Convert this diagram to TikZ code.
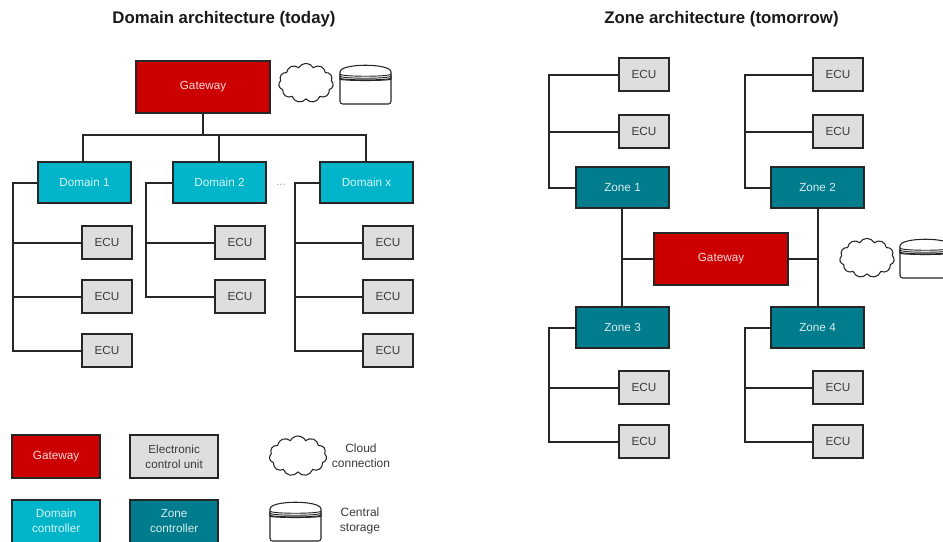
\documentclass[tikz,border=0pt]{standalone}
\usepackage{fontspec}
\setmainfont{Liberation Sans}
\usetikzlibrary{shapes.symbols,calc}
\definecolor{gwred}{HTML}{CC0000}
\definecolor{domcyan}{HTML}{00B5C9}
\definecolor{zoneteal}{HTML}{007C8C}
\definecolor{ecugray}{HTML}{DEDEDE}
\definecolor{txtdark}{HTML}{3A3A3A}
\tikzset{
  box/.style={draw=black!85,line width=1.5pt,anchor=north west,inner sep=0pt,align=center,font=\fontsize{8.8}{11.4}\selectfont},
  gw/.style={box,fill=gwred,text=white!85!gwred},
  dom/.style={box,fill=domcyan,text=white!85!domcyan,minimum width=69.8pt,minimum height=31pt},
  zone/.style={box,fill=zoneteal,text=white!85!zoneteal,minimum width=69.8pt,minimum height=31pt},
  ecu/.style={box,fill=ecugray,text=txtdark,minimum width=37.5pt,minimum height=24.8pt},
  gwmain/.style={gw,minimum width=100.5pt,minimum height=39pt},
  legend/.style={minimum width=66.2pt,minimum height=32.5pt},
  wire/.style={draw=black!85,line width=1.5pt},
  cloudy/.style={cloud,draw=black!85,line width=0.8pt,fill=white,cloud puffs=11,cloud puff arc=125,aspect=1.4,minimum width=41pt,minimum height=29.5pt,inner sep=0pt},
  plain/.style={align=center,text=txtdark,font=\fontsize{9}{11.4}\selectfont,inner sep=0pt},
  heading/.style={font=\bfseries\fontsize{12.6}{15}\selectfont,text=black!90,inner sep=0pt},
  storage/.pic={
    \draw[draw=black!85,line width=0.8pt,fill=white,rounded corners=2pt] (0,10) -- (0,39) -- (51,39) -- (51,10);
    \draw[draw=black!85,line width=0.8pt,fill=white] (0,7) .. controls (0,-2) and (51,-2) .. (51,7) -- (51,14) .. controls (51,16) and (0,16) .. (0,14) -- cycle;
    \draw[black!85,line width=0.7pt] (0,9) .. controls (0,12) and (51,12) .. (51,9);
    \draw[black!85,line width=0.7pt] (0,11) .. controls (0,14) and (51,14) .. (51,11);
    \draw[black!85,line width=0.7pt] (0,13) .. controls (0,15.5) and (51,15.5) .. (51,13);
  }
}
\begin{document}
\begin{tikzpicture}[x=0.75pt,y=-0.75pt]
\clip (0,0) rectangle (943,542);
\fill[white] (0,0) rectangle (943,542);
% headings
\node[heading] (h1) at (224,19) {Domain architecture (today)};
\node[heading] (h2) at (721.5,19) {Zone architecture (tomorrow)};
% left: nodes
\node[gwmain] (g) at (135,60) {Gateway};
\node[dom] (d1) at (37,161) {Domain 1};
\node[dom] (d2) at (172,161) {Domain 2};
\node[dom] (dx) at (319,161) {Domain x};
\node[ecu] (e11) at (81,225) {ECU};
\node[ecu] (e12) at (81,279) {ECU};
\node[ecu] (e13) at (81,333) {ECU};
\node[ecu] (e21) at (214,225) {ECU};
\node[ecu] (e22) at (214,279) {ECU};
\node[ecu] (ex1) at (362,225) {ECU};
\node[ecu] (ex2) at (362,279) {ECU};
\node[ecu] (ex3) at (362,333) {ECU};
\node[cloudy] (c1) at (306,83) {};
\pic at (340,65) {storage};
\node[plain,text=black!35] (dots) at (281,185) {...};
% left: connectors
\coordinate (bus) at (0,135);
\draw[wire] (d1.north -| 83,0) |- (bus -| 366,0) -- (dx.north -| 366,0);
\draw[wire] (g.south -| 203,0) -- (bus -| 203,0);
\draw[wire] (bus -| 219,0) -- (d2.north -| 219,0);
\coordinate (r1) at (13,0);
\coordinate (r2) at (146,0);
\coordinate (rx) at (295,0);
\draw[wire] (d1.west) -| (r1 |- e13.west) -- (e13.west);
\draw[wire] (r1 |- e11.west) -- (e11.west);
\draw[wire] (r1 |- e12.west) -- (e12.west);
\draw[wire] (d2.west) -| (r2 |- e22.west) -- (e22.west);
\draw[wire] (r2 |- e21.west) -- (e21.west);
\draw[wire] (dx.west) -| (rx |- ex3.west) -- (ex3.west);
\draw[wire] (rx |- ex1.west) -- (ex1.west);
\draw[wire] (rx |- ex2.west) -- (ex2.west);
% right: nodes
\node[zone] (z1) at (575,166) {Zone 1};
\node[zone] (z2) at (770,166) {Zone 2};
\node[zone] (z3) at (575,306) {Zone 3};
\node[zone] (z4) at (770,306) {Zone 4};
\node[gwmain] (g2) at (653,232) {Gateway};
\node[ecu] (a1) at (618,57) {ECU};
\node[ecu] (a2) at (618,114) {ECU};
\node[ecu] (b1) at (812,57) {ECU};
\node[ecu] (b2) at (812,114) {ECU};
\node[ecu] (c3a) at (618,370) {ECU};
\node[ecu] (c3b) at (618,424) {ECU};
\node[ecu] (c4a) at (812,370) {ECU};
\node[ecu] (c4b) at (812,424) {ECU};
\node[cloudy] (c2) at (867,258) {};
\pic at (900,239) {storage};
% right: connectors
\coordinate (ra) at (549,0);
\coordinate (rb) at (745,0);
\coordinate (va) at (622,0);
\coordinate (vb) at (818,0);
\draw[wire] (a1.west) -| (ra |- z1.west) -- (z1.west);
\draw[wire] (ra |- a2.west) -- (a2.west);
\draw[wire] (b1.west) -| (rb |- z2.west) -- (z2.west);
\draw[wire] (rb |- b2.west) -- (b2.west);
\draw[wire] (z3.west) -| (ra |- c3b.west) -- (c3b.west);
\draw[wire] (ra |- c3a.west) -- (c3a.west);
\draw[wire] (z4.west) -| (rb |- c4b.west) -- (c4b.west);
\draw[wire] (rb |- c4a.west) -- (c4a.west);
\draw[wire] (va |- z1.south) -- (va |- z3.north);
\draw[wire] (vb |- z2.south) -- (vb |- z4.north);
\draw[wire] (va |- g2.west) -- (g2.west);
\draw[wire] (g2.east) -- (vb |- g2.east);
% legend
\node[gw,legend] (l1) at (11,434) {Gateway};
\node[ecu,legend] (l2) at (129,434) {Electronic\\control unit};
\node[dom,legend] (l3) at (11,498.5) {Domain\\controller};
\node[zone,legend] (l4) at (129,498.5) {Zone\\controller};
\node[cloudy,minimum width=43pt,minimum height=30pt] (l5) at (298,456) {};
\node[plain] (l6) at (361,456) {Cloud\\connection};
\pic at (270,502) {storage};
\node[plain] (l7) at (360,521) {Central\\storage};
\end{tikzpicture}
\end{document}
